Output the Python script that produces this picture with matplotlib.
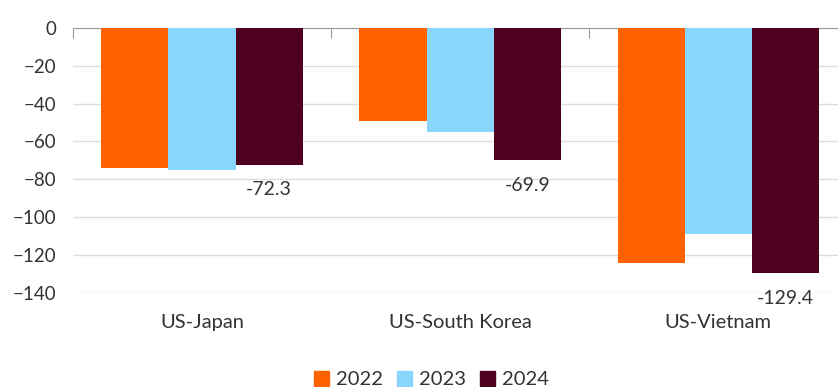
import numpy as np
import matplotlib.pyplot as plt
import matplotlib.transforms as mtransforms
from matplotlib.patches import Patch

pairs = ["US-Japan", "US-South Korea", "US-Vietnam"]
years = ["2022", "2023", "2024"]
bal_2022 = [-74.0, -49.3, -124.0]
bal_2023 = [-75.3, -54.9, -109.1]
bal_2024 = [-72.3, -69.9, -129.4]
colors = ["#FF6200", "#89D6FD", "#4F0021"]

plt.rcParams["font.family"] = ["Lato", "DejaVu Sans"]
txt = "#333333"

fig = plt.figure(figsize=(8.38, 3.87), dpi=100)
ax = fig.add_axes([0.0871, 0.243, 0.924, 0.685])

x = np.arange(len(pairs))
w = 0.26
series = [bal_2022, bal_2023, bal_2024]
for i, (vals, c) in enumerate(zip(series, colors)):
    ax.bar(x + (i - 1) * w, vals, width=w, color=c, zorder=3)

# value labels for the latest year only
for xi, v in zip(x + w, bal_2024):
    ax.annotate(f"{v:.1f}", (xi, v), xytext=(0, -12), textcoords="offset points",
                ha="center", va="top", fontsize=14, color=txt)

ax.set_xlim(-0.5, 2.5)
ax.set_ylim(-140, 0)
ax.set_yticks(np.arange(-140, 1, 20))
ax.yaxis.grid(True, color="#dddddd", linewidth=1, zorder=0)
ax.tick_params(axis="y", length=0, labelsize=13.5, labelcolor=txt, pad=12)

for s in ["left", "right", "bottom"]:
    ax.spines[s].set_visible(False)
ax.spines["top"].set_color("#999999")
ax.xaxis.set_ticks_position("top")
ax.set_xticks([-0.5, 0.5, 1.5])
ax.set_xticklabels([])
ax.tick_params(axis="x", direction="in", length=7, color="#999999")

trans = mtransforms.blended_transform_factory(ax.transData, ax.transAxes)
for xi, name in zip(x, pairs):
    ax.text(xi, -0.11, name, transform=trans, ha="center", va="center",
            fontsize=14.5, color=txt)

handles = [Patch(color=c) for c in colors]
fig.legend(handles, years, loc="lower center", bbox_to_anchor=(0.515, -0.05), ncol=3,
           frameon=False, fontsize=14.5, handlelength=0.75, handleheight=0.75,
           handletextpad=0.35, columnspacing=0.7, labelcolor=txt)

fig.savefig("out.png", dpi=100)
